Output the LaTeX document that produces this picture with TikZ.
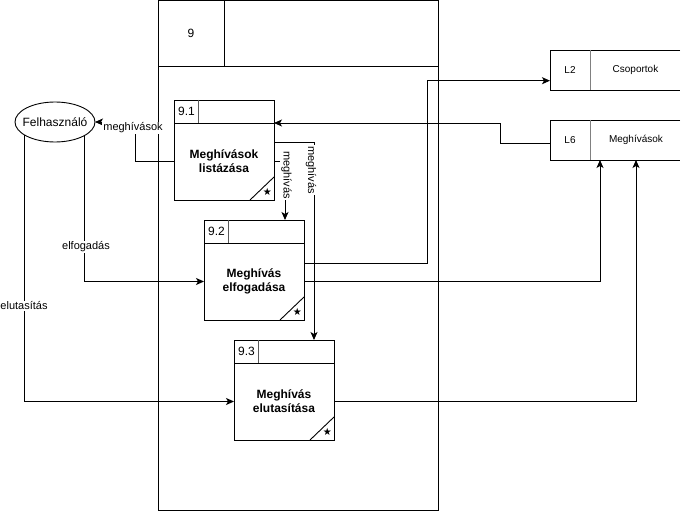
\documentclass[tikz,border=0pt]{standalone}
\usepackage{fontspec}
\setmainfont{Liberation Sans}
\newfontfamily\symfont{DejaVu Sans}
\usetikzlibrary{arrows.meta,shapes.geometric}
\begin{document}
\begin{tikzpicture}[x=1pt,y=-1pt,
  every path/.style={line width=0.9pt},
  body/.style={draw, minimum width=100pt, minimum height=77pt, inner sep=0pt, outer sep=0pt, align=center, font=\bfseries\fontsize{12}{14}\selectfont},
  hdr/.style={draw, minimum width=100pt, minimum height=23pt, inner sep=0pt, outer sep=0pt, anchor=south},
  num/.style={font=\fontsize{12}{14}\selectfont, inner sep=0pt},
  starmark/.style={font=\symfont\fontsize{10}{10}\selectfont, inner sep=0pt},
  lbl/.style={fill=white, inner sep=1pt, font=\fontsize{11}{13}\selectfont},
  dstore/.style={minimum width=130pt, minimum height=40pt, inner sep=0pt, outer sep=0pt},
  dtxt/.style={font=\fontsize{10}{12}\selectfont, inner sep=0pt},
  arr/.style={-{Stealth[length=8pt,width=7pt,inset=2pt]}}
]
\useasboundingbox (0,0) rectangle (681,511);

% process 9 frame
\node[draw, minimum width=280pt, minimum height=510pt, inner sep=0pt, outer sep=0pt, anchor=north west] (p9) at (158,0.5) {};
\draw ([yshift=-66pt]p9.north west) -- ([yshift=-66pt]p9.north east);
\draw ([xshift=66pt]p9.north west) -- ++(0,66);
\node[num] (n9) at (191,33) {9};

% external entity
\node[draw, ellipse, minimum width=80pt, minimum height=40pt, inner sep=0pt, outer sep=0pt] (ell) at (55,122) {};
\node[font=\fontsize{12}{14}\selectfont, inner sep=0pt] (elltxt) at (ell.center) {Felhasználó};

% data stores
\node[dstore] (l2) at (615,70) {};
\draw (l2.north east) -- (l2.north west) -- (l2.south west) -- (l2.south east);
\draw[gray] ([xshift=40pt]l2.north west) -- ([xshift=40pt]l2.south west);
\node[dtxt] (l2a) at (570,70) {L2};
\node[dtxt] (l2b) at (635.5,70) {Csoportok};

\node[dstore] (l6) at (615,140) {};
\draw (l6.north east) -- (l6.north west) -- (l6.south west) -- (l6.south east);
\draw[gray] ([xshift=40pt]l6.north west) -- ([xshift=40pt]l6.south west);
\node[dtxt] (l6a) at (570,140) {L6};
\node[dtxt] (l6b) at (636,140) {Meghívások};

% processes
\node[body] (b91) at (224,161.5) {Meghívások\\listázása};
\node[hdr] (h91) at (b91.north) {};
\node[body] (b92) at (254,281.5) {Meghívás\\elfogadása};
\node[hdr] (h92) at (b92.north) {};
\node[body] (b93) at (284,401.5) {Meghívás\\elutasítása};
\node[hdr] (h93) at (b93.north) {};

\foreach \p/\t in {91/9.1,92/9.2,93/9.3}{
  \draw[gray!70!black] ([xshift=24pt]h\p.north west) -- ([xshift=24pt]h\p.south west);
  \node[num] at ([xshift=12.5pt]h\p.west) {\t};
  \draw ([xshift=-24pt]b\p.south east) -- ([yshift=23pt]b\p.south east);
  \node[starmark] at ([xshift=-6.7pt,yshift=7.7pt]b\p.south east) {★};
}

% connectors
\draw[arr] (b91.west) -- ++(-39,0) |- (ell.east)
  node[lbl] at (133,128) {meghívások};
\draw[arr] ([yshift=-3pt]l6.west) -- ++(-50,0) |- (h91.south east);
\draw[arr] ([yshift=19.5pt]b91.east) -| ([xshift=-20pt]h93.north east)
  node[lbl, rotate=-90] at (311,170) {meghívás};
\draw[arr] (b91.east) -| ([xshift=-19pt]h92.north east)
  node[lbl, rotate=-90] at (286.5,175) {meghívás};
\draw[arr] ([yshift=18.5pt]b92.east) -- ++(123,0) |- ([yshift=-10.7pt]l2.west);
\draw[arr] (b92.east) -| ([xshift=50pt]l6.south west);
\draw[arr] (b93.east) -| ([xshift=86pt]l6.south west);
\draw[arr] (ell.-25.9) |- (b92.west)
  node[lbl] at (86,247) {elfogadás};
\draw[arr] (ell.-157.2) |- (b93.west)
  node[lbl] at (24,306) {elutasítás};
\end{tikzpicture}
\end{document}
